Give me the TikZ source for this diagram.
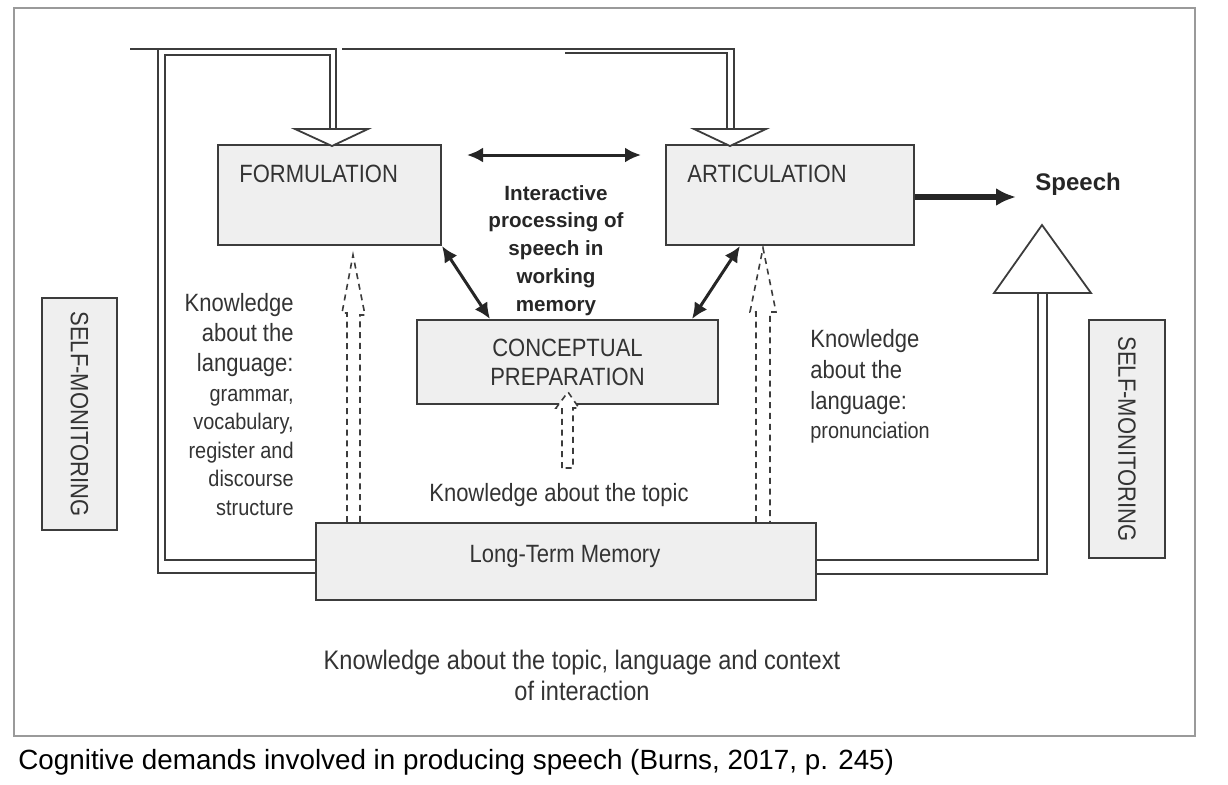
\documentclass[tikz,border=0pt]{standalone}
\usepackage{fontspec}
\setmainfont{Liberation Sans}
\newfontfamily\narrowfont[FakeStretch=0.88]{Liberation Sans}
\usetikzlibrary{arrows.meta,positioning}
\definecolor{boxgray}{HTML}{EFEFEF}
\definecolor{linegray}{HTML}{3C3C3C}
\definecolor{textgray}{HTML}{333333}
\definecolor{framegray}{HTML}{9A9A9A}

\tikzset{
  stagebox/.style={draw=linegray, line width=1pt, fill=boxgray, inner sep=0pt, align=center,
    font=\narrowfont\fontsize{12.5}{14.5}\selectfont, text=textgray},
  lbl/.style={inner sep=0pt, font=\narrowfont\fontsize{12.5}{15}\selectfont, text=textgray},
  lblsmall/.style={inner sep=0pt, font=\narrowfont\fontsize{11.3}{14.25}\selectfont, text=textgray},
  pipe/.style={draw=linegray, line width=0.9pt},
  hollowhead/.style={draw=linegray, line width=0.9pt, fill=white, line join=miter},
  dashpipe/.style={draw=linegray, line width=0.8pt, dash pattern=on 3pt off 2.4pt},
  twoway/.style={{Latex[length=8pt,width=7.5pt]}-{Latex[length=8pt,width=7.5pt]}, line width=1.5pt, draw=black!85},
}

\begin{document}
\begin{tikzpicture}[x=0.5pt, y=-0.5pt]
\useasboundingbox (0,0) rectangle (1228,784);
\draw[framegray, line width=1pt] (14,8) rectangle (1195,736);

% pipes from long-term memory
\node[stagebox, minimum width=250pt, minimum height=38.5pt] (ltm) at (566,561.5) {};
\draw[pipe] (ltm.west |- 0,573) -| (158,49);
\draw[pipe] (130,49) -| (336,129);
\draw[pipe] (ltm.west |- 0,560) -| (165,55) -| (330,129);
\draw[pipe] (342,49) -- (565,49);
\draw[pipe] (565,49) -| (734,129);
\draw[pipe] (565,53) -| (727,129);
\draw[pipe] (ltm.east |- 0,574) -| (1047,293);
\draw[pipe] (ltm.east |- 0,560) -| (1038,293);

% stages
\node[stagebox, minimum width=111.5pt, minimum height=50pt] (form) at (329.5,195) {};
\node[stagebox, minimum width=124pt, minimum height=50pt] (arti) at (790,195) {};
\node[stagebox, minimum width=150.5pt, minimum height=42pt] (conc) at (567.5,362) {CONCEPTUAL\\PREPARATION};
\node[stagebox, rotate=-90, minimum width=116pt, minimum height=37.5pt] (monl) at (79.5,414) {SELF-MONITORING};
\node[stagebox, rotate=-90, minimum width=119pt, minimum height=38pt] (monr) at (1127,439) {SELF-MONITORING};

\node[lbl, anchor=base west] (formtxt) at (239,182) {FORMULATION};
\node[lbl, anchor=base west] (artitxt) at (687,182) {ARTICULATION};
\node[lbl, anchor=base] (ltmtxt) at (565,562) {Long-Term Memory};

% hollow heads
\draw[hollowhead] (295,129) -- (368,129) -- (332,146) -- cycle;
\draw[hollowhead] (694,129) -- (766,129) -- (730,146) -- cycle;
\draw[hollowhead] (994,293) -- (1091,293) -- (1042,225) -- cycle;

% knowledge arrows
\draw[dashpipe] (ltm.north -| 347,0) -- (347,313) -- (342,313) -- (353,255) -- (365,315) -- (360,315) -- (ltm.north -| 360,0);
\draw[dashpipe] (ltm.north -| 756,0) -- (756,312) -- (750,312) -- (763,248) -- (776,312) -- (770,312) -- (ltm.north -| 770,0);
\draw[dashpipe, fill=white] (562,468) -- (562,408) -- (556,408) -- (568,392) -- (579,408) -- (573,408) -- (573,468) -- cycle;

% working memory
\node[font=\bfseries\fontsize{10.3}{13.85}\selectfont, text=black!85, align=center, inner sep=0pt, anchor=base] (wm) at (556,311)
  {Interactive\\processing of\\speech in\\working\\memory};
\coordinate (wmleft) at (467,155);
\coordinate (wmright) at (641,155);
\draw[twoway] (wmleft) -- (wmright);
\draw[twoway] (form.south east) -- (conc.north -| 490,0);
\draw[twoway] (arti.south -| 740,0) -- (conc.north -| 692,0);

\node[font=\bfseries\fontsize{12}{14}\selectfont, text=black!85, anchor=base west, inner sep=0pt] (speech) at (1035,190) {Speech};
\coordinate (speechtip) at (1016,197);
\draw[-{Latex[length=10pt,width=9pt]}, line width=3pt, black!85] (arti.east |- 0,197) -- (speechtip);

% labels
\node[lbl, align=right, anchor=base east] (klang) at (294,371) {Knowledge\\about the\\language:};
\node[lblsmall, align=right, anchor=base east] (klist) at (294,515) {grammar,\\vocabulary,\\register and\\discourse\\structure};
\node[lbl, align=left, anchor=base west, font=\narrowfont\fontsize{12.5}{15.5}\selectfont] (kpron) at (810,409) {Knowledge\\about the\\language:};
\node[lblsmall, anchor=base west] (kpronb) at (810,438) {pronunciation};
\node[lbl, anchor=base] (ktopic) at (559,501) {Knowledge about the topic};
\node[lbl, align=center, anchor=base, font=\narrowfont\fontsize{13.4}{15.5}\selectfont] (kall) at (582,700)
  {Knowledge about the topic, language and context\\of interaction};

\node[font=\fontsize{13.9}{16}\selectfont, anchor=base west, inner sep=0pt] (caption) at (18,769)
  {Cognitive demands involved in producing speech (Burns, 2017, p. 245)};
\end{tikzpicture}
\end{document}
